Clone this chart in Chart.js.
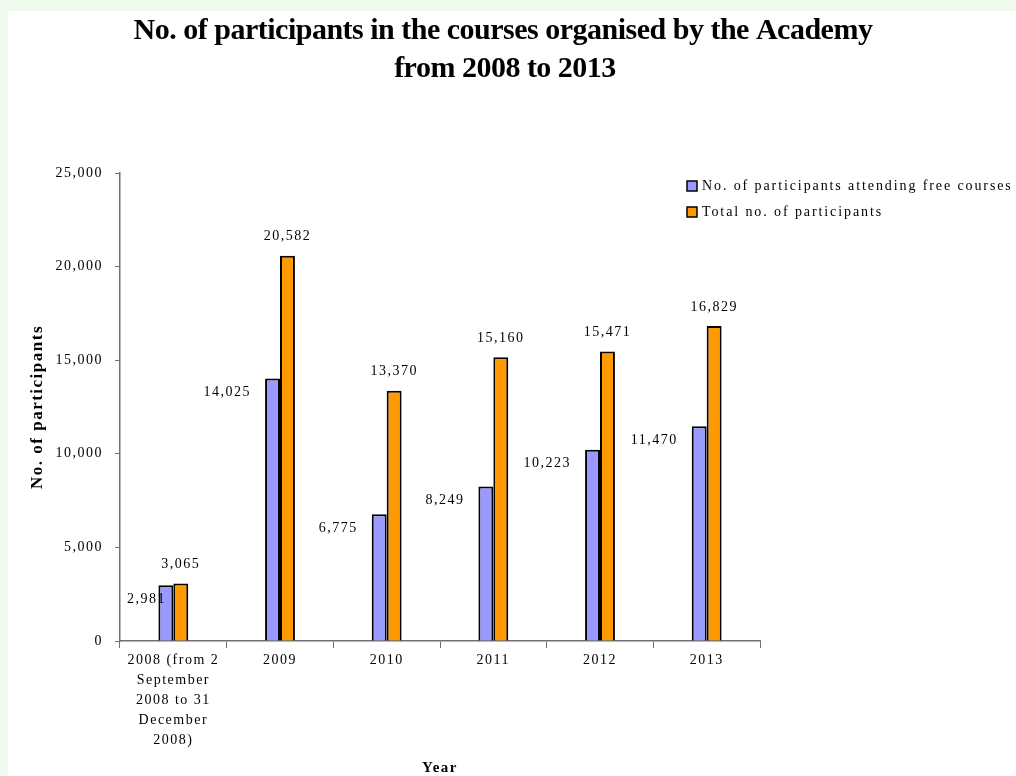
<!DOCTYPE html>
<html>
<head>
<meta charset="utf-8">
<script src="https://cdn.jsdelivr.net/npm/chart.js@4/dist/chart.umd.min.js"></script>
<style>
  html, body { margin: 0; padding: 0; background: #f0fbf0; }
  #wrap { width: 1016px; height: 776px; position: relative; }
</style>
</head>
<body>
<div id="wrap"><canvas id="c" width="1016" height="776"></canvas></div>
<script>
const titleLines = ['No. of participants in the courses organised by the Academy', 'from 2008 to 2013'];
const categories = [['2008 (from 2', 'September', '2008 to 31', 'December', '2008)'], '2009', '2010', '2011', '2012', '2013'];
const seriesNames = ['No. of participants attending free courses', 'Total no. of participants'];
const freeCourses = [2981, 14025, 6775, 8249, 10223, 11470];
const totalParticipants = [3065, 20582, 13370, 15160, 15471, 16829];
const yMin = 0, yMax = 25000, yStep = 5000;
const xAxisTitle = 'Year';
const yAxisTitle = 'No. of participants';

const SERIF = "'Liberation Serif', 'Times New Roman', serif";
const BLUE = '#9999ff', ORANGE = '#ff9900';
const fmt = v => Number(v).toLocaleString('en-US');

const bgPlugin = {
  id: 'bg',
  beforeUpdate(chart) { chart.ctx.letterSpacing = '1.5px'; },
  beforeDraw(chart) {
    const ctx = chart.ctx;
    ctx.save();
    ctx.fillStyle = '#f0fbf0';
    ctx.fillRect(0, 0, chart.width, chart.height);
    ctx.fillStyle = '#ffffff';
    ctx.fillRect(8, 11, chart.width - 8, chart.height - 11);
    ctx.restore();
    ctx.letterSpacing = '1.5px';
  }
};

const overlayPlugin = {
  id: 'overlay',
  afterDatasetsDraw(chart) {
    const ctx = chart.ctx;
    const area = chart.chartArea;
    ctx.save();
    ctx.letterSpacing = '1.5px';
    ctx.font = '14px ' + SERIF;
    ctx.fillStyle = '#000';
    ctx.textBaseline = 'middle';
    chart.getDatasetMeta(0).data.forEach((bar, i) => {
      const txt = fmt(chart.data.datasets[0].data[i]);
      const w = ctx.measureText(txt).width;
      const left = bar.x - bar.width / 2;
      const right = Math.max(left - 14, area.left + 7 + w);
      ctx.textAlign = 'right';
      ctx.fillText(txt, right, bar.y + 14);
    });
    chart.getDatasetMeta(1).data.forEach((bar, i) => {
      const txt = fmt(chart.data.datasets[1].data[i]);
      ctx.textAlign = 'center';
      ctx.fillText(txt, bar.x, bar.y - 19);
    });
    ctx.restore();
  },
  afterDraw(chart) {
    const ctx = chart.ctx;
    ctx.save();
    ctx.letterSpacing = '-0.5px';
    ctx.font = 'bold 30px ' + SERIF;
    ctx.fillStyle = '#000';
    ctx.textAlign = 'center';
    ctx.textBaseline = 'middle';
    ctx.fillText(titleLines[0], 503, 31);
    ctx.fillText(titleLines[1], 505, 69);
    ctx.letterSpacing = '1.9px';
    ctx.font = '14px ' + SERIF;
    ctx.textAlign = 'left';
    chart.data.datasets.forEach((ds, i) => {
      const cy = 186 + i * 26;
      ctx.fillStyle = ds.backgroundColor;
      ctx.fillRect(687, cy - 5, 10, 10);
      ctx.strokeStyle = '#000';
      ctx.lineWidth = 1.5;
      ctx.strokeRect(687, cy - 5, 10, 10);
      ctx.fillStyle = '#000';
      ctx.fillText(ds.label, 702, cy);
    });
    ctx.restore();
  }
};

new Chart(document.getElementById('c'), {
  type: 'bar',
  data: {
    labels: categories,
    datasets: [
      { label: seriesNames[0], data: freeCourses, backgroundColor: BLUE, borderColor: '#000', borderWidth: 2,
        categoryPercentage: 0.28, barPercentage: 1.0 },
      { label: seriesNames[1], data: totalParticipants, backgroundColor: ORANGE, borderColor: '#000', borderWidth: 2,
        categoryPercentage: 0.28, barPercentage: 1.0 }
    ]
  },
  options: {
    responsive: false,
    animation: false,
    devicePixelRatio: 1,
    layout: { padding: { left: 8, top: 173, right: 256, bottom: 0 } },
    plugins: {
      legend: { display: false },
      title: { display: false },
      tooltip: { enabled: false }
    },
    scales: {
      x: {
        afterFit(scale) { scale.height = 135; },
        grid: { display: true, drawOnChartArea: false, drawTicks: true, tickLength: 7, color: '#707070', offset: true },
        border: { display: true, color: '#707070', width: 1.5 },
        ticks: { color: '#000', font: { family: SERIF, size: 14, lineHeight: 1.43 }, padding: 2, maxRotation: 0, autoSkip: false },
        title: { display: true, text: xAxisTitle, color: '#000', font: { family: SERIF, size: 15, weight: 'bold' }, padding: { top: 0, bottom: -1 } }
      },
      y: {
        min: yMin, max: yMax,
        afterFit(scale) { scale.width = 112; },
        grid: { display: true, drawOnChartArea: false, drawTicks: true, tickLength: 5, color: '#707070' },
        border: { display: true, color: '#707070', width: 1.5 },
        ticks: { stepSize: yStep, color: '#000', font: { family: SERIF, size: 14 }, padding: 12, callback: v => fmt(v) },
        title: { display: true, text: yAxisTitle, color: '#000', font: { family: SERIF, size: 17, weight: 'bold' }, padding: { top: 19, bottom: 0 } }
      }
    }
  },
  plugins: [bgPlugin, overlayPlugin]
});
</script>
</body>
</html>
